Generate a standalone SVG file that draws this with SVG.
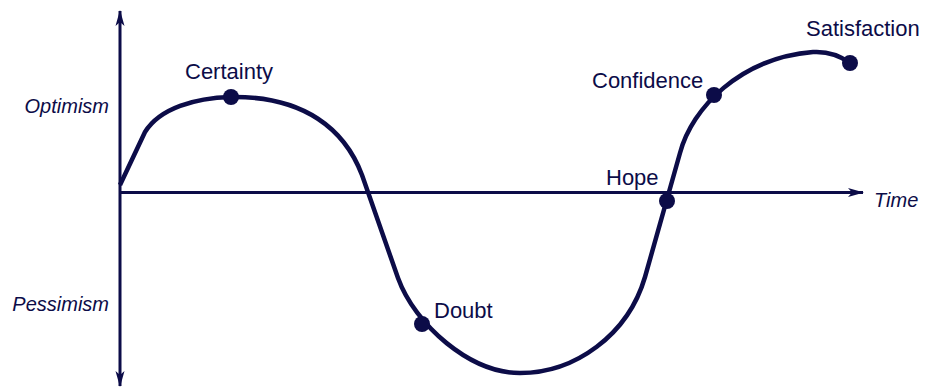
<svg xmlns="http://www.w3.org/2000/svg" width="930" height="389" viewBox="0 0 930 389">
<style>
.lbl{font-family:"Liberation Sans",Arial,sans-serif;font-size:22px;fill:#0c0c48}
.ax{font-family:"Liberation Sans",Arial,sans-serif;font-size:20px;font-style:italic;fill:#0c0c48}
.axis{stroke:#0c0c48;stroke-width:3;fill:none}
.curve{stroke:#0c0c48;stroke-width:4.5;fill:none;stroke-linejoin:round}
.dot{fill:#0c0c48}
</style>
<defs>
<marker id="arr" viewBox="0 0 16 10" refX="15" refY="5" markerWidth="16" markerHeight="10" markerUnits="userSpaceOnUse" orient="auto-start-reverse">
<path d="M0,0.5 L16,5 L0,9.5 L4,5 Z" fill="#0c0c48"/>
</marker>
</defs>
<rect width="930" height="389" fill="#fff"/>
<g id="connectors">
<line class="axis" x1="120" y1="386" x2="120" y2="11" marker-start="url(#arr)" marker-end="url(#arr)"/>
<line class="axis" x1="119" y1="192.5" x2="863" y2="192.5" marker-end="url(#arr)"/>
<path class="curve" d="M120,185 L145,132 C160,108 195,98 231,97 C305,96 345,130 362,175 L398,278 C415,325 470,373 520,373 C575,373 628,335 645,277 L680,153 C692,108 740,58 813,52 C830,51 842,57 850,63"/>
</g>
<text class="ax" x="109" y="113" text-anchor="end">Optimism</text>
<text class="ax" x="109" y="311" text-anchor="end">Pessimism</text>
<text class="ax" x="874" y="207">Time</text>
<g id="certainty"><circle class="dot" cx="231" cy="97" r="8"/><text class="lbl" x="185" y="79">Certainty</text></g>
<g id="doubt"><circle class="dot" cx="422" cy="324" r="8"/><text class="lbl" x="434" y="318">Doubt</text></g>
<g id="hope"><circle class="dot" cx="667" cy="201" r="8"/><text class="lbl" x="606" y="185">Hope</text></g>
<g id="confidence"><circle class="dot" cx="714" cy="95" r="8"/><text class="lbl" x="592" y="88">Confidence</text></g>
<g id="satisfaction"><circle class="dot" cx="850" cy="63" r="8"/><text class="lbl" x="806" y="36">Satisfaction</text></g>
</svg>
